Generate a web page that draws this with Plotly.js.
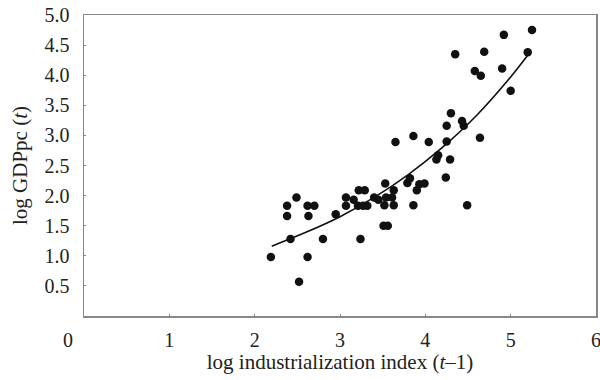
<!DOCTYPE html>
<html>
<head>
<meta charset="utf-8">
<script src="https://cdn.plot.ly/plotly-3.0.1.min.js"></script>
<style>html,body{margin:0;padding:0;background:#fff;}#chart{width:600px;height:380px;}</style>
</head>
<body>
<div id="chart"></div>
<script>
// Scatter points: log industrialization index (t-1) vs log GDPpc (t)
const indX = [2.19,2.52,2.62,2.42,2.80,3.24,2.38,2.38,2.49,2.62,2.70,2.63,2.95,3.07,3.07,3.22,3.29,3.21,3.27,3.32,3.16,3.40,3.45,3.52,3.53,3.51,3.56,3.63,3.61,3.63,3.54,3.65,3.86,4.04,3.79,3.82,3.90,3.93,3.99,3.86,4.13,4.15,4.29,4.24,4.25,4.25,4.43,4.45,4.49,4.64,4.30,4.35,4.69,4.92,5.25,5.20,4.90,4.58,4.65,5.00];
const gdpY = [0.98,0.57,0.98,1.28,1.28,1.28,1.83,1.66,1.97,1.83,1.83,1.66,1.69,1.97,1.83,2.09,2.09,1.83,1.83,1.83,1.93,1.97,1.93,1.84,2.20,1.50,1.50,2.09,1.97,1.84,1.97,2.89,2.99,2.89,2.21,2.29,2.09,2.19,2.20,1.84,2.60,2.67,2.60,2.30,2.90,3.16,3.24,3.16,1.84,2.96,3.37,4.35,4.39,4.67,4.75,4.38,4.11,4.07,3.99,3.74];
// Trend curve
const trendX = [2.2,2.6,3.0,3.4,3.8,4.2,4.6,5.0,5.2];
const trendY = [1.16,1.39,1.65,1.97,2.35,2.80,3.33,3.97,4.33];
// Tick labels
const xTicks = [1,2,3,4,5,6];
const yTicks = [0.5,1.0,1.5,2.0,2.5,3.0,3.5,4.0,4.5,5.0];

const serif = 'Liberation Serif, Times New Roman, serif';
const traces = [
  {x: indX, y: gdpY, type: 'scatter', mode: 'markers',
   marker: {color: '#111', size: 8.5}, hoverinfo: 'skip'},
  {x: trendX, y: trendY, type: 'scatter', mode: 'lines',
   line: {color: '#111', width: 1.6, shape: 'spline'}, hoverinfo: 'skip'}
];
const layout = {
  width: 600, height: 380,
  margin: {l: 84, r: 4, t: 15, b: 64},
  paper_bgcolor: '#fff', plot_bgcolor: '#fff',
  showlegend: false,
  font: {family: serif, size: 20, color: '#222'},
  xaxis: {
    range: [0, 6], tickvals: xTicks, ticktext: xTicks.map(String),
    showgrid: false, zeroline: false, showline: true, mirror: true,
    linecolor: '#888', linewidth: 1.5, ticks: 'inside', ticklen: 2, tickcolor: '#888',
    ticklabelstandoff: 5, ticklabeloverflow: 'allow',
    tickfont: {family: serif, size: 20, color: '#222'},
    title: {text: 'log industrialization index (<i>t</i>–1)', font: {family: serif, size: 21, color: '#222'}, standoff: 4}
  },
  yaxis: {
    range: [0, 5], tickvals: yTicks, ticktext: yTicks.map(v => v.toFixed(1)),
    showgrid: false, zeroline: false, showline: true, mirror: true,
    linecolor: '#888', linewidth: 1.5, ticks: 'inside', ticklen: 2, tickcolor: '#888',
    ticklabelstandoff: 9,
    tickfont: {family: serif, size: 20, color: '#222'},
    title: {text: 'log GDPpc (<i>t</i>)', font: {family: serif, size: 21, color: '#222'}, standoff: 11}
  },
  annotations: [
    {text: '0', xref: 'paper', yref: 'paper', x: -0.031, y: -0.035, xanchor: 'center', yanchor: 'top',
     showarrow: false, font: {family: serif, size: 20, color: '#222'}}
  ]
};
Plotly.newPlot('chart', traces, layout, {staticPlot: true, displayModeBar: false});
</script>
</body>
</html>
